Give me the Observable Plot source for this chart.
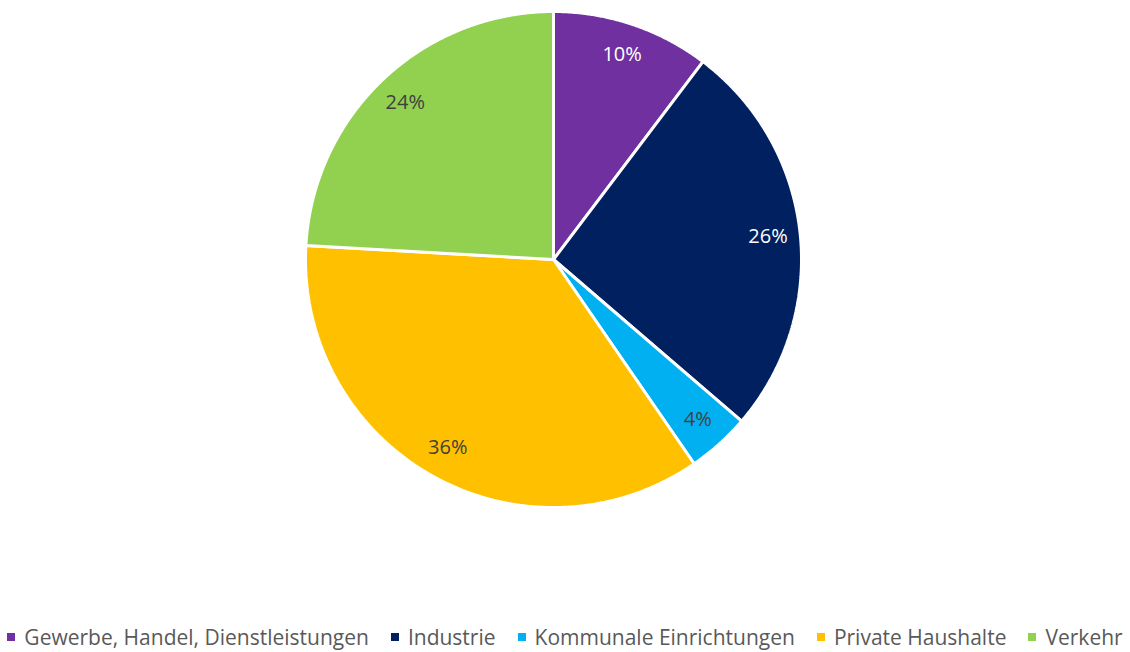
<!DOCTYPE html>
<html>
<head>
<meta charset="utf-8">
<script src="https://cdn.jsdelivr.net/npm/d3@7"></script>
<script src="https://cdn.jsdelivr.net/npm/@observablehq/plot@0.6"></script>
<style>
  html, body { margin: 0; padding: 0; background: #fff; }
  #wrap { position: relative; width: 1130px; height: 652px; font-family: "Open Sans", sans-serif; }
  #legend { position: absolute; left: 0; width: 1130px; top: 623px; display: flex; justify-content: center; gap: 22px; font-size: 21px; color: #595959; white-space: nowrap; }
  #legend .item { display: flex; align-items: center; }
  #legend .sw { width: 8px; height: 8px; margin-right: 9px; display: inline-block; }
</style>
</head>
<body>
<div id="wrap"><div id="chart"></div><div id="legend"></div></div>
<script>
const categories = ["Gewerbe, Handel, Dienstleistungen", "Industrie", "Kommunale Einrichtungen", "Private Haushalte", "Verkehr"];
const shares = [10.3, 26.0, 4.1, 35.5, 24.1];
const colors = ["#7030A0", "#002060", "#00B0F0", "#FFC000", "#92D050"];
const labelColors = ["#ffffff", "#ffffff", "#404040", "#404040", "#404040"];

const data = categories.map((c, i) => ({category: c, value: shares[i], color: colors[i], labelColor: labelColors[i]}));
const arcs = d3.pie().sort(null).value(d => d.value)(data);

// Build slice polygons (angles clockwise from 12 o'clock) in unit coordinates
const polys = [];
arcs.forEach(a => {
  const cat = a.data.category;
  polys.push({category: cat, x: 0, y: 0});
  const steps = Math.max(2, Math.ceil((a.endAngle - a.startAngle) / 0.005));
  for (let k = 0; k <= steps; k++) {
    const t = a.startAngle + (a.endAngle - a.startAngle) * k / steps;
    polys.push({category: cat, x: Math.sin(t), y: Math.cos(t)});
  }
  polys.push({category: cat, x: 0, y: 0});
});
const labels = arcs.map(a => {
  const m = (a.startAngle + a.endAngle) / 2;
  const r = 0.87;
  return {text: Math.round(a.data.value) + "%", x: r * Math.sin(m), y: r * Math.cos(m), fill: a.data.labelColor};
});

const chart = Plot.plot({
  width: 1130,
  height: 520,
  marginLeft: 305,
  marginRight: 329,
  marginTop: 11,
  marginBottom: 13,
  x: {domain: [-1, 1], axis: null},
  y: {domain: [-1, 1], axis: null},
  color: {domain: categories, range: colors},
  style: {fontFamily: "'Open Sans', sans-serif", background: "transparent"},
  marks: [
    Plot.line(polys, {x: "x", y: "y", z: "category", fill: "category", stroke: "white", strokeWidth: 3, strokeLinejoin: "miter", curve: "linear"}),
    Plot.text(labels, {x: "x", y: "y", text: "text", fill: "fill", fontSize: 20, dy: 0})
  ]
});
document.getElementById("chart").appendChild(chart);

const legend = document.getElementById("legend");
categories.forEach((c, i) => {
  const it = document.createElement("div");
  it.className = "item";
  const sw = document.createElement("span");
  sw.className = "sw";
  sw.style.background = colors[i];
  it.appendChild(sw);
  it.appendChild(document.createTextNode(c));
  legend.appendChild(it);
});
</script>
</body>
</html>
